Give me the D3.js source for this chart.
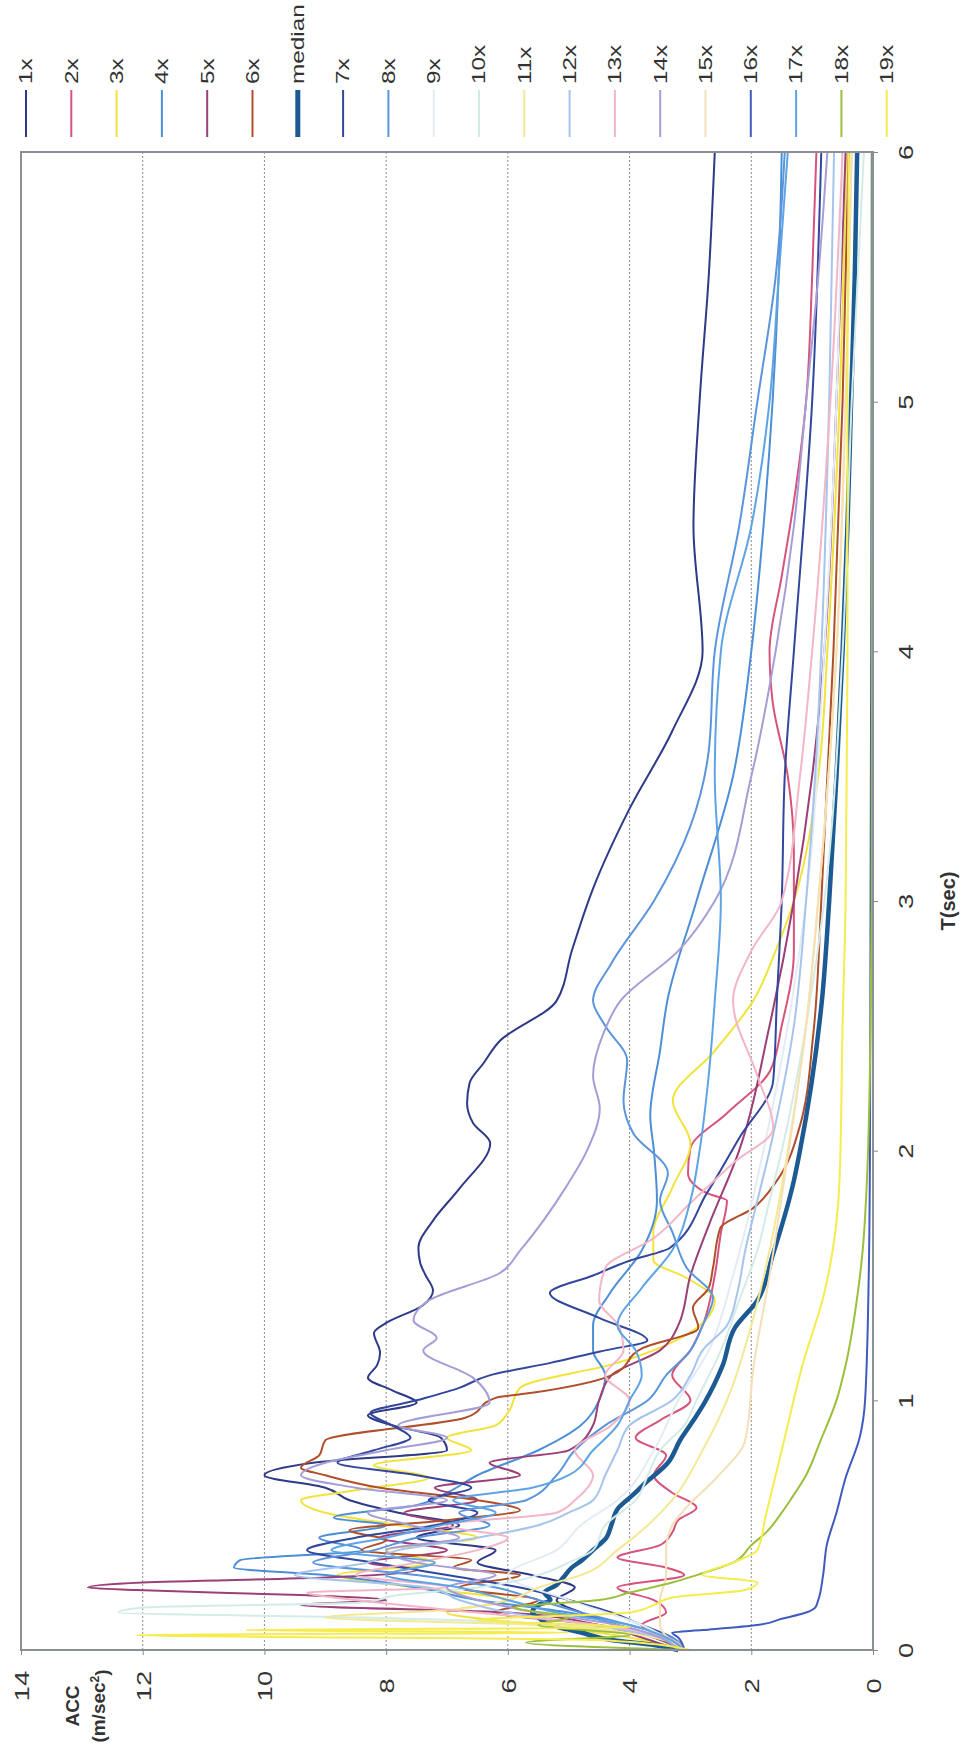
<!DOCTYPE html>
<html>
<head>
<meta charset="utf-8">
<script src="https://cdn.jsdelivr.net/npm/d3@7"></script>
<style>
  body { margin: 0; background: #fff; }
  text { font-family: "Liberation Sans", Arial, sans-serif; fill: #333; }
</style>
</head>
<body>
<script>
// series, each point is [T (sec), ACC (m/sec2)]
const s1x = [[0,3.2],[0.05,3.5],[0.1,4.2],[0.15,4.8],[0.2,5.2],[0.25,4.9],[0.3,5.6],[0.35,6.5],[0.4,6.2],[0.45,7.5],[0.5,6.8],[0.55,7.8],[0.6,8.6],[0.65,9.0],[0.7,10.0],[0.75,9.2],[0.8,7.0],[0.85,7.1],[0.9,7.9],[0.94,8.3],[0.99,7.5],[1.04,7.9],[1.09,8.3],[1.14,8.15],[1.19,8.1],[1.27,8.2],[1.31,8.0],[1.38,7.4],[1.44,7.23],[1.5,7.35],[1.55,7.44],[1.61,7.47],[1.72,7.23],[1.85,6.79],[2.03,6.29],[2.11,6.57],[2.19,6.67],[2.27,6.63],[2.35,6.4],[2.44,6.13],[2.6,5.2],[2.8,4.95],[3.05,4.6],[3.37,4.0],[3.68,3.3],[4.0,2.8],[4.5,2.95],[5,2.85],[5.5,2.7],[6,2.6]];
const s2x = [[0,3.1],[0.05,3.4],[0.1,3.8],[0.15,3.4],[0.2,3.6],[0.25,4.2],[0.3,3.1],[0.33,3.4],[0.37,4.2],[0.42,3.5],[0.47,3.3],[0.52,3.2],[0.57,2.9],[0.63,3.3],[0.7,3.6],[0.78,3.4],[0.85,3.9],[0.92,3.5],[1.0,3.0],[1.1,3.3],[1.2,3.0],[1.3,2.8],[1.5,2.6],[1.67,2.5],[1.8,2.4],[1.83,2.73],[1.91,3.04],[2.01,3.0],[2.15,2.4],[2.32,1.69],[2.5,1.5],[2.8,1.3],[3.2,1.3],[3.5,1.4],[3.8,1.65],[4.0,1.7],[4.3,1.5],[4.6,1.3],[5,1.1],[5.5,1.0],[6,0.93]];
const s3x = [[0,3.1],[0.05,4.0],[0.1,5.5],[0.15,7.0],[0.2,6.0],[0.25,7.5],[0.3,8.8],[0.35,7.2],[0.4,8.0],[0.45,6.5],[0.5,7.8],[0.55,9.0],[0.6,9.4],[0.64,8.5],[0.69,7.3],[0.74,8.2],[0.8,6.6],[0.85,7.0],[0.9,6.2],[0.95,6.0],[1.05,5.8],[1.15,4.2],[1.29,2.9],[1.4,2.6],[1.49,3.06],[1.56,3.61],[1.67,3.61],[1.85,3.3],[2.03,3.0],[2.2,3.29],[2.4,2.6],[2.6,1.97],[2.8,1.6],[3,1.3],[3.5,0.9],[4,0.75],[5,0.55],[6,0.44]];
const s4x = [[0,3.1],[0.05,3.6],[0.1,4.2],[0.15,5.0],[0.2,6.5],[0.25,7.5],[0.3,9.0],[0.33,10.5],[0.36,10.4],[0.4,8.4],[0.45,9.1],[0.5,8.0],[0.53,8.86],[0.58,7.5],[0.63,7.0],[0.7,6.5],[0.8,5.5],[0.9,4.8],[1.0,4.5],[1.1,4.4],[1.2,4.6],[1.3,4.6],[1.43,4.32],[1.6,3.8],[1.8,3.55],[2.0,3.6],[2.14,3.66],[2.4,3.5],[2.6,3.38],[3.0,2.9],[3.5,2.3],[4,2.0],[4.5,1.8],[5,1.65],[5.5,1.55],[6,1.5]];
const s5x = [[0,3.2],[0.05,3.8],[0.1,4.5],[0.15,6.0],[0.18,9.4],[0.2,8.0],[0.22,9.4],[0.24,12.1],[0.25,12.9],[0.27,12.0],[0.29,9.0],[0.32,7.5],[0.35,8.3],[0.4,7.0],[0.45,8.1],[0.5,6.9],[0.55,7.7],[0.6,6.5],[0.65,7.2],[0.7,5.8],[0.75,6.3],[0.8,5.0],[0.9,4.6],[1.0,4.5],[1.1,4.3],[1.2,3.5],[1.3,3.2],[1.5,3.0],[1.7,2.7],[2.0,2.2],[2.5,1.7],[3.0,1.3],[3.5,1.0],[4,0.8],[5,0.6],[6,0.45]];
const s6x = [[0,3.1],[0.05,3.6],[0.1,4.5],[0.15,6.2],[0.2,5.5],[0.25,6.8],[0.3,5.8],[0.33,6.9],[0.36,6.6],[0.4,8.4],[0.44,8.0],[0.48,8.6],[0.52,7.0],[0.56,5.8],[0.6,6.5],[0.65,8.1],[0.7,9.0],[0.73,9.4],[0.78,9.1],[0.84,9.0],[0.93,6.7],[1.01,6.2],[1.03,5.6],[1.1,4.3],[1.21,3.78],[1.29,2.87],[1.37,2.96],[1.45,2.7],[1.53,2.63],[1.69,2.51],[1.77,1.97],[1.88,1.58],[2.1,1.2],[2.47,0.98],[3,0.85],[3.5,0.75],[4,0.65],[5,0.5],[6,0.4]];
const sMedian = [[0,3.2],[0.02,3.6],[0.04,4.3],[0.07,4.8],[0.1,5.3],[0.13,5.5],[0.15,5.6],[0.18,5.5],[0.2,5.3],[0.23,5.4],[0.26,5.2],[0.29,5.09],[0.33,4.95],[0.36,4.78],[0.4,4.6],[0.45,4.38],[0.5,4.3],[0.57,4.18],[0.62,3.95],[0.66,3.78],[0.75,3.37],[0.84,3.17],[0.92,2.95],[0.99,2.77],[1.14,2.47],[1.29,2.27],[1.4,1.9],[1.58,1.65],[1.88,1.3],[2.0,1.2],[2.6,0.84],[3,0.72],[3.5,0.6],[4,0.5],[4.5,0.42],[5,0.36],[5.5,0.3],[6,0.26]];
const s7x = [[0,3.1],[0.05,3.3],[0.1,3.8],[0.15,4.3],[0.2,5.0],[0.25,5.8],[0.3,7.0],[0.35,8.2],[0.4,9.3],[0.45,8.5],[0.5,7.2],[0.55,6.5],[0.6,7.3],[0.65,6.6],[0.7,7.5],[0.75,8.8],[0.8,8.2],[0.85,7.6],[0.9,7.9],[0.95,8.26],[1.0,7.5],[1.05,6.8],[1.1,6.3],[1.15,5.3],[1.2,4.4],[1.24,3.71],[1.33,4.5],[1.43,5.31],[1.5,4.6],[1.56,3.99],[1.61,3.34],[1.83,2.73],[2.05,2.2],[2.28,1.64],[2.6,1.58],[3,1.5],[3.5,1.45],[4,1.3],[5,1.0],[6,0.85]];
const s8x = [[0,3.1],[0.05,3.3],[0.1,4.0],[0.15,4.8],[0.2,5.5],[0.25,6.2],[0.3,7.5],[0.35,9.2],[0.4,8.2],[0.45,7.5],[0.5,6.3],[0.55,6.8],[0.6,5.7],[0.7,5.2],[0.8,4.9],[0.9,4.4],[1.0,3.7],[1.1,3.4],[1.2,3.0],[1.3,2.8],[1.41,2.63],[1.53,3.06],[1.67,3.29],[1.8,3.5],[1.91,3.37],[2.07,3.94],[2.2,4.1],[2.36,4.04],[2.5,4.4],[2.6,4.6],[2.75,4.3],[3.0,3.6],[3.3,3.0],[3.6,2.7],[4,2.6],[4.5,2.2],[5,1.9],[5.5,1.6],[6,1.45]];
const s9x = [[0,3.1],[0.1,3.8],[0.2,5.0],[0.3,6.0],[0.4,5.2],[0.5,4.8],[0.6,4.2],[0.8,3.6],[1,3.2],[1.2,2.7],[1.5,2.3],[2,1.8],[2.5,1.4],[3,1.1],[4,0.8],[5,0.6],[6,0.5]];
const s10x = [[0,3.1],[0.05,3.4],[0.1,5.0],[0.13,8.4],[0.15,12.4],[0.17,12.0],[0.19,8.4],[0.22,7.8],[0.25,6.5],[0.3,5.5],[0.35,5.0],[0.4,4.6],[0.5,4.4],[0.6,3.9],[0.7,3.7],[0.8,3.5],[0.9,3.1],[1.0,2.9],[1.2,2.5],[1.4,2.2],[1.6,1.9],[1.8,1.7],[2.0,1.5],[2.5,1.1],[3,0.8],[4,0.5],[5,0.35],[6,0.15]];
const s11x = [[0,3.1],[0.05,3.6],[0.1,5.5],[0.13,9.0],[0.16,7.0],[0.2,6.0],[0.25,5.5],[0.3,4.8],[0.4,4.2],[0.5,3.7],[0.6,3.3],[0.8,2.8],[1.0,2.4],[1.3,2.0],[1.6,1.7],[2.0,1.4],[2.5,1.1],[3,0.9],[4,0.6],[5,0.45],[6,0.35]];
const s12x = [[0,3.1],[0.05,3.5],[0.1,4.6],[0.15,6.0],[0.2,6.8],[0.25,7.3],[0.3,9.5],[0.35,8.3],[0.4,7.8],[0.45,6.5],[0.5,5.5],[0.55,5.0],[0.6,4.6],[0.7,4.4],[0.8,4.2],[0.9,4.0],[1.0,3.3],[1.1,3.0],[1.2,2.8],[1.3,2.4],[1.43,2.23],[1.6,2.1],[1.8,1.9],[2.0,1.7],[2.5,1.3],[3,1.1],[3.5,0.95],[4,0.85],[5,0.72],[6,0.64]];
const s13x = [[0,3.1],[0.05,3.4],[0.1,4.5],[0.15,6.5],[0.2,8.5],[0.23,9.3],[0.25,7.0],[0.3,8.5],[0.35,7.5],[0.4,6.5],[0.45,6.0],[0.5,7.0],[0.55,5.2],[0.6,4.9],[0.7,4.6],[0.8,4.9],[0.9,4.3],[1.0,4.0],[1.1,4.4],[1.2,4.1],[1.29,4.16],[1.4,4.5],[1.53,4.4],[1.65,3.6],[1.79,3.0],[1.95,2.3],[2.09,1.64],[2.3,1.9],[2.6,2.3],[2.8,2.0],[3.0,1.5],[3.5,1.2],[4,1.0],[5,0.7],[6,0.5]];
const s14x = [[0,3.2],[0.05,3.5],[0.1,4.2],[0.15,5.5],[0.2,6.5],[0.25,7.0],[0.3,6.2],[0.35,7.5],[0.4,8.0],[0.45,6.8],[0.5,7.6],[0.55,8.3],[0.6,7.0],[0.65,8.5],[0.7,9.4],[0.75,9.0],[0.8,8.0],[0.85,7.0],[0.9,7.8],[0.99,6.3],[1.09,6.57],[1.2,7.39],[1.25,7.17],[1.32,7.55],[1.4,7.3],[1.51,6.13],[1.6,5.8],[1.86,5.03],[2.0,4.7],[2.17,4.49],[2.3,4.6],[2.47,4.43],[2.6,4.15],[2.8,3.2],[3.0,2.6],[3.5,2.0],[4,1.6],[4.5,1.3],[5,1.1],[5.5,0.9],[6,0.75]];
const s15x = [[0,3.1],[0.1,3.5],[0.2,3.5],[0.3,3.4],[0.4,3.4],[0.5,3.3],[0.57,3.07],[0.69,2.57],[0.84,2.1],[1.14,1.96],[1.5,1.7],[1.88,1.46],[2.5,1.1],[3,0.9],[4,0.6],[5,0.45],[6,0.35]];
const s16x = [[0,3.1],[0.05,3.2],[0.07,3.3],[0.08,2.8],[0.1,1.9],[0.125,1.5],[0.15,1.1],[0.17,0.95],[0.2,0.9],[0.3,0.82],[0.42,0.76],[0.55,0.6],[0.69,0.45],[0.85,0.22],[1.0,0.13],[1.5,0.07],[2,0.05],[3,0.04],[4,0.03],[6,0.02]];
const s17x = [[0,3.1],[0.05,3.4],[0.1,4.0],[0.15,5.2],[0.2,6.0],[0.25,6.8],[0.3,8.0],[0.35,7.2],[0.4,8.9],[0.45,8.0],[0.5,7.1],[0.55,6.2],[0.6,6.9],[0.65,5.6],[0.7,5.0],[0.8,4.6],[0.9,4.2],[1.0,4.0],[1.1,3.8],[1.2,3.9],[1.3,4.2],[1.45,3.8],[1.6,3.3],[1.8,3.0],[2.0,2.85],[2.3,2.7],[2.6,2.6],[3,2.5],[3.5,2.6],[4,2.5],[4.5,2.0],[5,1.7],[5.5,1.55],[6,1.4]];
const s18x = [[0,3.1],[0.03,5.7],[0.06,4.0],[0.1,5.5],[0.13,5.0],[0.17,5.9],[0.2,4.5],[0.23,4.0],[0.27,3.3],[0.3,2.9],[0.35,2.3],[0.42,2.0],[0.47,1.76],[0.55,1.5],[0.6,1.36],[0.7,1.1],[0.84,0.86],[1.0,0.6],[1.14,0.45],[1.43,0.25],[1.6,0.17],[1.88,0.1],[2.5,0.04],[3,0.02],[6,0.01]];
const s19x = [[0,3.0],[0.04,4.5],[0.06,12.1],[0.07,5],[0.08,10.3],[0.09,4],[0.12,6.5],[0.15,4.0],[0.18,3.6],[0.21,3.3],[0.24,2.1],[0.27,1.9],[0.3,2.8],[0.35,2.3],[0.4,1.9],[0.54,1.76],[0.7,1.6],[0.84,1.46],[1.14,1.16],[1.43,0.8],[1.88,0.55],[2.5,0.5],[3,0.45],[4,0.42],[5,0.42],[6,0.4]];

const seriesNames = ['1x', '2x', '3x', '4x', '5x', '6x', 'median', '7x', '8x', '9x', '10x',
    '11x', '12x', '13x', '14x', '15x', '16x', '17x', '18x', '19x'];
const seriesData = [s1x, s2x, s3x, s4x, s5x, s6x, sMedian, s7x, s8x, s9x, s10x,
    s11x, s12x, s13x, s14x, s15x, s16x, s17x, s18x, s19x];
const seriesColors = ['#2e3a87', '#d6547c', '#f2e33a', '#4d8fd6', '#9b3f78', '#b04f2c', '#1c5a94',
    '#33479c', '#5b95dc', '#e3ecf5', '#d3ece8', '#f3e994', '#a6c4ec', '#f2b6c6', '#a59ed6',
    '#f5dfb6', '#3f5bbf', '#5ea4e4', '#9cbf3c', '#f5ec4e'];

const accTicks = [0, 2, 4, 6, 8, 10, 12, 14];
const periodTicks = [0, 1, 2, 3, 4, 5, 6];

const W = 961, H = 1763;

const svg = d3.select('body')
    .append('svg')
    .attr('width', W)
    .attr('height', H);

// chart is drawn rotated: ACC runs right to left, T runs bottom to top
const acc = d3.scaleLinear().domain([0, 14]).range([873, 21]);
const per = d3.scaleLinear().domain([0, 6]).range([1650, 152]);

// dotted grid
svg.append('g')
    .selectAll('line')
    .data(accTicks.filter(v => v > 0 && v < 14))
    .enter()
    .append('line')
    .attr('x1', d => acc(d))
    .attr('x2', d => acc(d))
    .attr('y1', per(6))
    .attr('y2', per(0))
    .attr('stroke', '#8c8c8c')
    .attr('stroke-width', 1)
    .attr('stroke-dasharray', '2,2');

const line = d3.line()
    .x(d => acc(d[1]))
    .y(d => per(d[0]))
    .curve(d3.curveMonotoneY);

svg.append('g')
    .selectAll('path')
    .data(seriesData)
    .enter()
    .append('path')
    .attr('d', line)
    .attr('fill', 'none')
    .attr('stroke', (d, i) => seriesColors[i])
    .attr('stroke-width', (d, i) => seriesNames[i] === 'median' ? 4.5 : 2)
    .attr('stroke-linejoin', 'round');

// plot frame
svg.append('rect')
    .attr('x', acc(14))
    .attr('y', per(6))
    .attr('width', acc(0) - acc(14))
    .attr('height', per(0) - per(6))
    .attr('fill', 'none')
    .attr('stroke', '#8a8f96')
    .attr('stroke-width', 2);

// ACC axis (bottom)
const accAxis = svg.append('g')
    .attr('transform', 'translate(0,' + per(0) + ')')
    .call(d3.axisBottom(acc).tickValues(accTicks).tickFormat(d3.format('d')).tickSize(5).tickSizeOuter(0));
accAxis.select('.domain').remove();
accAxis.selectAll('line').attr('stroke', '#888');
accAxis.selectAll('text')
    .attr('y', null)
    .attr('dy', '0.35em')
    .attr('text-anchor', 'middle')
    .attr('transform', 'translate(0,36) rotate(-90) scale(1.3,1)')
    .style('font-size', '21px')
    .style('fill', '#333');

// T axis (right)
const perAxis = svg.append('g')
    .attr('transform', 'translate(' + acc(0) + ',0)')
    .call(d3.axisRight(per).tickValues(periodTicks).tickFormat(d3.format('d')).tickSize(5).tickSizeOuter(0));
perAxis.select('.domain').remove();
perAxis.selectAll('line').attr('stroke', '#888');
perAxis.selectAll('text')
    .attr('x', null)
    .attr('dy', '0.35em')
    .attr('text-anchor', 'middle')
    .attr('transform', 'translate(33,0) rotate(-90) scale(1.3,1)')
    .style('font-size', '21px')
    .style('fill', '#333');

// axis titles
svg.append('text')
    .attr('transform', 'translate(948,' + per(3) + ') rotate(-90)')
    .attr('text-anchor', 'middle')
    .attr('dy', '0.35em')
    .style('font-size', '20px')
    .style('font-weight', 'bold')
    .text('T(sec)');

svg.append('text')
    .attr('transform', 'translate(72,1706) rotate(-90)')
    .attr('text-anchor', 'middle')
    .attr('dy', '0.35em')
    .style('font-size', '19px')
    .style('font-weight', 'bold')
    .text('ACC');

const unit = svg.append('text')
    .attr('transform', 'translate(98,1706) rotate(-90)')
    .attr('text-anchor', 'middle')
    .attr('dy', '0.35em')
    .style('font-size', '19px')
    .style('font-weight', 'bold');
unit.append('tspan').text('(m/sec');
unit.append('tspan').attr('dy', '-0.45em').style('font-size', '12px').text('2');
unit.append('tspan').attr('dy', '0.45em').text(')');

// legend across the top
const legend = svg.append('g')
    .selectAll('g')
    .data(seriesNames)
    .enter()
    .append('g')
    .attr('transform', (d, i) => 'translate(' + (26 + i * 45.3) + ',0)');

legend.append('line')
    .attr('y1', 90)
    .attr('y2', 137)
    .attr('stroke', (d, i) => seriesColors[i])
    .attr('stroke-width', d => d === 'median' ? 5 : 2);

legend.append('text')
    .attr('transform', 'translate(0,84) rotate(-90) scale(1.35,1)')
    .attr('dy', '0.35em')
    .style('font-size', '18px')
    .text(d => d);
</script>
</body>
</html>
